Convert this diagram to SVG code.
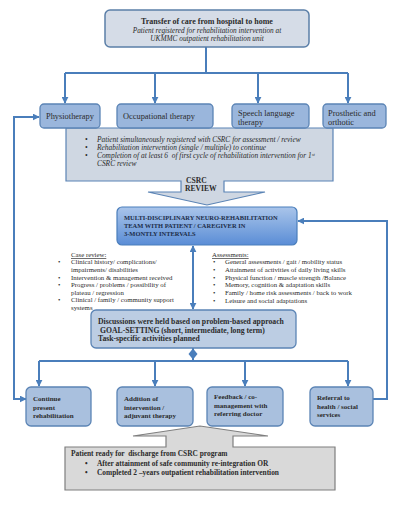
<svg xmlns="http://www.w3.org/2000/svg" width="400" height="505" viewBox="0 0 400 505">
<style>
text{font-family:"Liberation Serif","DejaVu Serif",serif;fill:#2b2b2b}
.con{fill:none;stroke:#4a7ebb;stroke-width:2}
.box{stroke:#5b84b5;stroke-width:1.3}
.ther{fill:#9ab6dc}
.bot{fill:#a9c0de}
.b{font-weight:bold}
.i{font-style:italic}
.t8{font-size:8.4px}
.t7{font-size:7px}
.s6{font-size:6.8px}
.g7{font-size:7.4px;font-style:italic}
.mdt{font-size:6.45px;font-weight:bold;fill:#1c2d48}
</style>
<defs>
<marker id="ah" viewBox="0 0 10 10" refX="9" refY="5" markerWidth="7" markerHeight="7" markerUnits="userSpaceOnUse" orient="auto-start-reverse">
<path d="M0,0 L10,5 L0,10 Z" fill="#4a7ebb"/>
</marker>
<linearGradient id="mdtg" x1="0" y1="0" x2="0" y2="1">
<stop offset="0" stop-color="#aac5ea"/>
<stop offset="1" stop-color="#5a8dd6"/>
</linearGradient>
</defs>
<rect width="400" height="505" fill="#ffffff"/>

<g id="csrc-callout">
<path d="M66 128 H333 V181 H224 V192 H265 L207 205 L148 192 H181 V181 H66 Z" fill="#cfd7e2" stroke="#5b84b5" stroke-width="1.2"/>
<text class="g7" x="85" y="142">•</text>
<text class="g7" x="97" y="142">Patient simultaneously registered with CSRC for assessment / review</text>
<text class="g7" x="85" y="150">•</text>
<text class="g7" x="97" y="150">Rehabilitation intervention (single / multiple) to continue</text>
<text class="g7" x="85" y="158">•</text>
<text class="g7" x="97" y="158" xml:space="preserve">Completion of at least 6  of first cycle of rehabilitation intervention for 1<tspan font-size="4.6" dy="-2.5">st</tspan></text>
<text class="g7" x="97" y="166">CSRC review</text>
<text class="b" font-size="7.6" x="186" y="183">CSRC</text>
<text class="b" font-size="7.6" x="185" y="191">REVIEW</text>
</g>

<g id="connectors">
<path class="con" d="M206 47 V73 M65 73 H348"/>
<path class="con" d="M65 73 V103" marker-end="url(#ah)"/>
<path class="con" d="M155 73 V103" marker-end="url(#ah)"/>
<path class="con" d="M258 73 V103" marker-end="url(#ah)"/>
<path class="con" d="M348 73 V103" marker-end="url(#ah)"/>
<path class="con" d="M26 399 H14 V117 H39" marker-start="url(#ah)" marker-end="url(#ah)"/>
<path class="con" d="M373 399 H387 V221 H298" marker-end="url(#ah)"/>
<path class="con" d="M193 246 V309" marker-start="url(#ah)" marker-end="url(#ah)"/>
<path class="con" d="M193 348 V361 M39 361 H348"/>
<path d="M193 348.5 L197.5 354 L193 359.5 L188.5 354 Z" fill="#4a7ebb"/>
<path class="con" d="M39 361 V386" marker-end="url(#ah)"/>
<path class="con" d="M155 361 V386" marker-end="url(#ah)"/>
<path class="con" d="M245 361 V386" marker-end="url(#ah)"/>
<path class="con" d="M348 361 V386" marker-end="url(#ah)"/>
</g>

<g id="transfer">
<rect x="105" y="10" width="204" height="37" rx="5" fill="#d5dce7" stroke="#5b7fa8" stroke-width="1.5"/>
<text class="b" font-size="8" x="207" y="24" text-anchor="middle" fill="#1f1f1f">Transfer of care from hospital to home</text>
<text class="i" font-size="7.3" x="207" y="32.5" text-anchor="middle">Patient registered for rehabilitation intervention at</text>
<text class="i" font-size="7.3" x="207" y="40.5" text-anchor="middle">UKMMC outpatient rehabilitation unit</text>
</g>

<g id="physiotherapy">
<rect class="box ther" x="40" y="104" width="60" height="24" rx="4"/>
<text class="t8" x="46" y="119">Physiotherapy</text>
</g>
<g id="occupational">
<rect class="box ther" x="117" y="104" width="96" height="24" rx="4"/>
<text class="t8" x="123" y="119">Occupational therapy</text>
</g>
<g id="speech">
<rect class="box ther" x="232" y="104" width="77" height="24" rx="4"/>
<text class="t8" x="238" y="116">Speech language</text>
<text class="t8" x="238" y="125">therapy</text>
</g>
<g id="prosthetic">
<rect class="box ther" x="323" y="104" width="63" height="24" rx="4"/>
<text class="t8" x="328" y="116">Prosthetic and</text>
<text class="t8" x="328" y="125">orthotic</text>
</g>

<g id="mdt">
<rect x="117" y="207" width="180" height="38" rx="5" fill="url(#mdtg)" stroke="#4a7ebb" stroke-width="1.2"/>
<text class="mdt" x="124" y="220">MULTI-DISCIPLINARY NEURO-REHABILITATION</text>
<text class="mdt" x="124" y="228">TEAM WITH PATIENT / CAREGIVER IN</text>
<text class="mdt" x="124" y="236">3-MONTLY INTERVALS</text>
</g>

<g id="case-review">
<text class="s6" x="71" y="257" text-decoration="underline">Case review:</text>
<text class="s6" x="58" y="264">•</text>
<text class="s6" x="71" y="264">Clinical history/ complications/</text>
<text class="s6" x="71" y="271.5">impairments/ disabilities</text>
<text class="s6" x="58" y="279.5">•</text>
<text class="s6" x="71" y="279.5">Intervention &amp; management received</text>
<text class="s6" x="58" y="287">•</text>
<text class="s6" x="71" y="287">Progress / problems / possibility of</text>
<text class="s6" x="71" y="294.5">plateau / regression</text>
<text class="s6" x="58" y="302">•</text>
<text class="s6" x="71" y="302">Clinical / family / community support</text>
<text class="s6" x="71" y="309.5">systems</text>
</g>

<g id="assessments">
<text class="s6" x="212" y="257" text-decoration="underline">Assessments:</text>
<text class="s6" x="213" y="264">•</text>
<text class="s6" x="225" y="264">General assessments / gait / mobility status</text>
<text class="s6" x="213" y="271.5">•</text>
<text class="s6" x="225" y="271.5">Attainment of activities of daily living skills</text>
<text class="s6" x="213" y="279.5">•</text>
<text class="s6" x="225" y="279.5">Physical function / muscle strength /Balance</text>
<text class="s6" x="213" y="287">•</text>
<text class="s6" x="225" y="287">Memory, cognition &amp; adaptation skills</text>
<text class="s6" x="213" y="295">•</text>
<text class="s6" x="225" y="295">Family / home risk assessments / back to work</text>
<text class="s6" x="213" y="302.5">•</text>
<text class="s6" x="225" y="302.5">Leisure and social adaptations</text>
</g>

<g id="discussions">
<rect x="91" y="310" width="205" height="38" rx="5" fill="#bccde3" stroke="#5b84b5" stroke-width="1.3"/>
<text class="b" font-size="7.7" x="98" y="324">Discussions were held based on problem-based approach</text>
<text class="b" font-size="7.7" x="100" y="332.5">GOAL-SETTING (short, intermediate, long term)</text>
<text class="b" font-size="7.7" x="98" y="341">Task-specific activities planned</text>
</g>

<g id="continue">
<rect class="box bot" x="26" y="387" width="65" height="39" rx="5"/>
<text class="b t7" x="33" y="401">Continue</text>
<text class="b t7" x="33" y="409.5">present</text>
<text class="b t7" x="33" y="418">rehabilitation</text>
</g>
<g id="addition">
<rect class="box bot" x="117" y="387" width="76" height="39" rx="5"/>
<text class="b t7" x="124" y="401">Addition of</text>
<text class="b t7" x="124" y="409.5">intervention /</text>
<text class="b t7" x="124" y="418">adjuvant therapy</text>
</g>
<g id="feedback">
<rect class="box bot" x="207" y="387" width="76" height="39" rx="5"/>
<text class="b t7" x="214" y="399">Feedback / co-</text>
<text class="b t7" x="214" y="407.5">management with</text>
<text class="b t7" x="214" y="416">referring doctor</text>
</g>
<g id="referral">
<rect class="box bot" x="310" y="387" width="63" height="39" rx="5"/>
<text class="b t7" x="317" y="400">Referral to</text>
<text class="b t7" x="317" y="408.5">health / social</text>
<text class="b t7" x="317" y="417">services</text>
</g>

<g id="discharge">
<path d="M65 447 H166 V436 H133 L200 426 L268 436 H233 V447 H335 V490 H65 Z" fill="#d9d9d9" stroke="#7f7f7f" stroke-width="1.2"/>
<text class="b" font-size="7.4" x="71" y="456" xml:space="preserve">Patient ready for  discharge from CSRC program</text>
<text class="b" font-size="7.4" x="85" y="465.5">•</text>
<text class="b" font-size="7.4" x="97" y="465.5">After attainment of safe community re-integration OR</text>
<text class="b" font-size="7.4" x="85" y="475">•</text>
<text class="b" font-size="7.4" x="97" y="475">Completed 2 –years outpatient rehabilitation intervention</text>
</g>
</svg>
